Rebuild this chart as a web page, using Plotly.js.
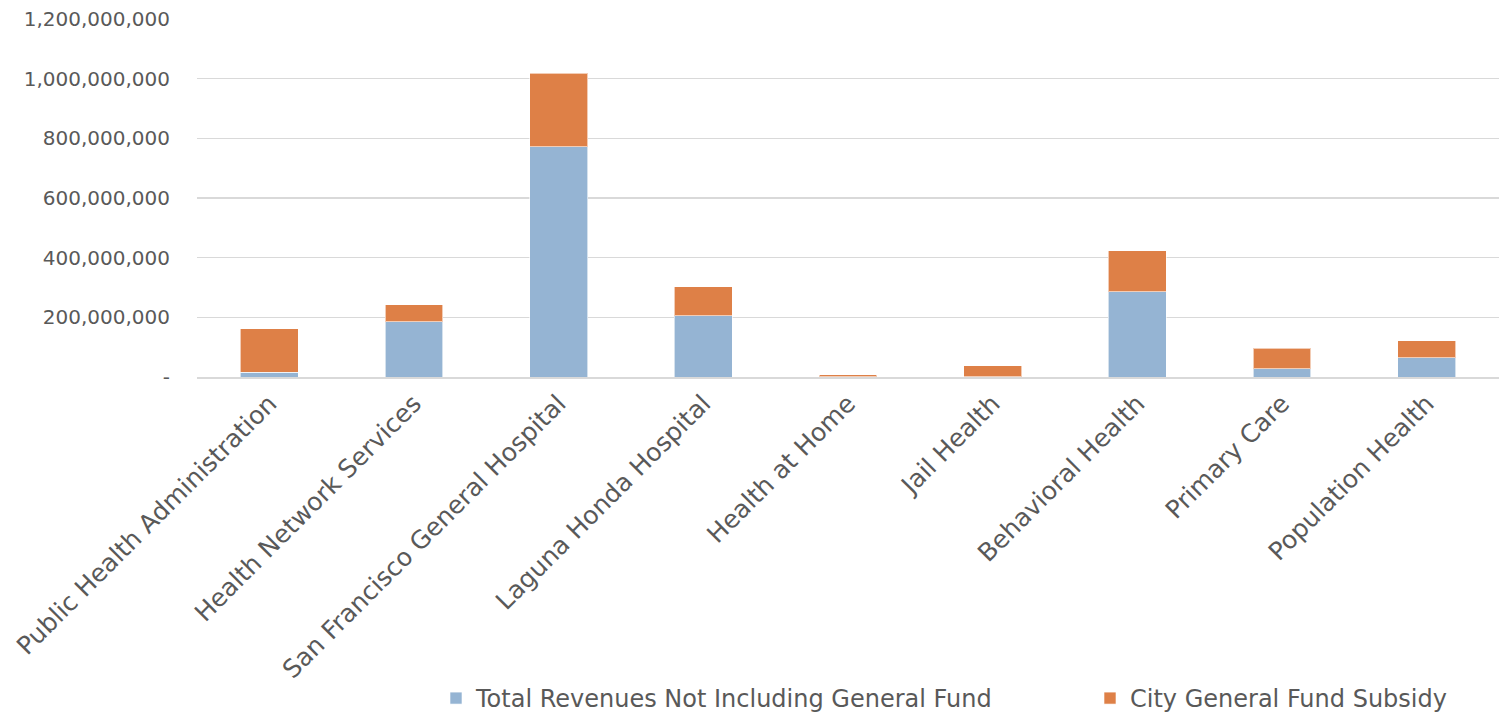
<!DOCTYPE html>
<html>
<head>
<meta charset="utf-8">
<script src="https://cdn.plot.ly/plotly-3.0.1.min.js"></script>
<style>html,body{margin:0;padding:0;background:#fff;}#chart{width:1499px;height:718px;}</style>
</head>
<body>
<div id="chart"></div>
<script>
const categories = ["Public Health Administration","Health Network Services","San Francisco General Hospital","Laguna Honda Hospital","Health at Home","Jail Health","Behavioral Health","Primary Care","Population Health"];
const revenuesNotGF = [16000000,186000000,772000000,206000000,1000000,1000000,285000000,28500000,65000000];
const generalFundSubsidy = [145500000,57000000,247000000,97000000,7000000,37500000,139000000,68000000,56000000];
const seriesNames = ["Total Revenues Not Including General Fund","City General Fund Subsidy"];
const yTickVals = [0,200000000,400000000,600000000,800000000,1000000000,1200000000];
const yTickText = ["-","200,000,000","400,000,000","600,000,000","800,000,000","1,000,000,000","1,200,000,000"];

const font = "DejaVu Sans, sans-serif";
const traces = [
  {type:"bar", name:seriesNames[0], x:categories, y:revenuesNotGF, legend:"legend",
   marker:{color:"#95B4D3", line:{color:"rgba(255,255,255,0.6)", width:1}}},
  {type:"bar", name:seriesNames[1], x:categories, y:generalFundSubsidy, legend:"legend2",
   marker:{color:"#DE8047", line:{color:"rgba(255,255,255,0.6)", width:1}}}
];
const legendStyle = {orientation:"h", xanchor:"left", yanchor:"middle", y:-0.898, font:{size:24, color:"#595959"}, itemwidth:30, bgcolor:"rgba(0,0,0,0)"};
const layout = {
  width:1499, height:718,
  barmode:"stack", bargap:0.6,
  margin:{l:197, r:0, t:19, b:341, autoexpand:false},
  paper_bgcolor:"#fff", plot_bgcolor:"#fff",
  font:{family:font, color:"#595959", size:20},
  xaxis:{tickangle:-45, tickfont:{size:25, color:"#595959"}, showline:true, linecolor:"#d9d9d9", linewidth:2, ticks:"", automargin:false},
  yaxis:{range:[0,1200000000], tickvals:yTickVals, ticktext:yTickText, showgrid:true, gridcolor:"#d9d9d9", gridwidth:1.5, zeroline:false, showline:false, ticks:"", ticklabelstandoff:26, tickfont:{size:20, color:"#595959"}, automargin:false},
  showlegend:true,
  legend:Object.assign({}, legendStyle, {x:(436-197)/1302}),
  legend2:Object.assign({}, legendStyle, {x:(1090-197)/1302})
};
Plotly.newPlot("chart", traces, layout, {displayModeBar:false, staticPlot:true});
</script>
</body>
</html>
